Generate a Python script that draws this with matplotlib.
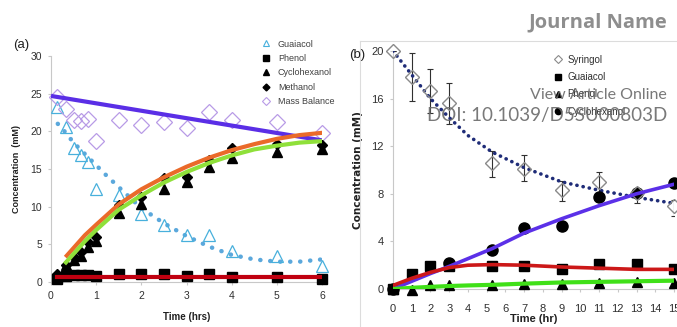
import matplotlib.pyplot as plt
from matplotlib.lines import Line2D

plt.rcParams['font.family'] = ['Liberation Sans Narrow', 'Liberation Sans', 'DejaVu Sans']

# panel (a) samples
ta = [0.13, 0.33, 0.5, 0.67, 0.83, 1.0, 1.5, 2.0, 2.5, 3.0, 3.5, 4.0, 5.0, 6.0]
guaiacol_a = [23.2, 20.6, 17.8, 16.8, 15.9, 12.3, 11.6, 9.0, 7.6, 6.3, 6.3, 4.1, 3.4, 2.1]
phenol_a = [0.4, 0.8, 0.9, 0.9, 0.9, 0.8, 1.1, 1.0, 1.0, 0.8, 1.0, 0.7, 0.6, 0.4]
cyclo_a = [0.6, 2.2, 2.9, 3.5, 4.6, 5.5, 9.1, 10.4, 12.4, 13.3, 15.3, 16.4, 17.2, 17.6]
methanol_a = [1.0, 2.3, 3.3, 4.0, 5.3, 6.0, 10.2, 11.3, 13.8, 13.9, 16.2, 17.8, 18.3, 18.2]
mass_a = [24.6, 22.9, 21.5, 21.4, 21.7, 18.7, 21.5, 20.9, 21.3, 20.4, 22.6, 21.5, 21.2, 19.8]

# panel (a) fitted curves
fit_g_t = [0.15, 0.3, 0.5, 0.75, 1.0, 1.25, 1.5, 2.0, 2.5, 3.0, 3.5, 4.0, 4.5, 5.0, 5.5, 6.0]
fit_g = [21.0, 20.0, 18.5, 17.0, 15.5, 14.0, 12.6, 9.8, 7.8, 6.1, 4.7, 3.6, 3.0, 2.7, 2.7, 3.0]
fit_o_t = [0.35, 0.75, 1.0, 1.5, 2.0, 2.5, 3.0, 3.5, 4.0, 4.5, 5.0, 5.5, 6.0]
fit_o = [3.5, 6.2, 7.6, 10.3, 12.3, 13.9, 15.3, 16.5, 17.5, 18.3, 19.0, 19.5, 19.8]
fit_c_t = [0.33, 0.75, 1.0, 1.5, 2.0, 2.5, 3.0, 3.5, 4.0, 4.5, 5.0, 5.5, 6.0]
fit_c = [2.6, 5.4, 6.9, 9.6, 11.5, 13.2, 14.6, 15.8, 16.8, 17.6, 18.1, 18.5, 18.7]
fit_m_t = [0.0, 6.0]
fit_m = [24.7, 18.8]
fit_p_t = [0.13, 6.0]
fit_p = [0.7, 0.7]

# panel (b) samples
tb = [0, 1, 2, 3, 5.3, 7, 9, 11, 13, 15]
syringol = [20.0, 17.8, 16.6, 15.6, 10.6, 10.1, 8.3, 9.0, 8.1, 7.0]
syr_lo = [20.0, 15.8, 14.8, 13.9, 9.4, 9.05, 7.4, 7.8, 7.2, 6.1]
syr_hi = [20.0, 19.8, 18.5, 17.3, 11.6, 11.3, 9.05, 9.8, 8.4, 7.5]
guaiacol_b = [0.0, 1.3, 1.9, 1.9, 1.9, 1.9, 1.7, 2.1, 2.1, 1.7]
phenol_b = [0.0, -0.1, 0.3, 0.3, 0.3, 0.4, 0.4, 0.5, 0.6, 0.5]
tb_c = [0, 3, 5.3, 7, 9, 11, 13, 15]
cyclo_b = [0.0, 2.2, 3.3, 5.1, 5.3, 7.7, 8.1, 8.9]

fit_b_t = [0, 1, 2, 3, 4, 5.3, 7, 9, 11, 13, 15]
fit_syr = [20.0, 18.0, 16.0, 14.4, 12.9, 11.5, 10.2, 9.0, 8.3, 7.7, 7.2]
fit_cyc = [0.0, 0.65, 1.3, 1.9, 2.55, 3.4, 4.7, 5.9, 7.0, 8.0, 8.8]
fit_gua = [0.3, 0.9, 1.4, 1.8, 2.0, 2.05, 2.0, 1.85, 1.75, 1.65, 1.65]
fit_phe = [0.0, 0.1, 0.18, 0.25, 0.3, 0.35, 0.45, 0.55, 0.6, 0.65, 0.7]

W, H = 677, 327
fig = plt.figure(figsize=(W / 100, H / 100), dpi=100)

tick_col = '#303030'
spine_col = '#c8c8c8'


def style(ax):
    for s in ['top', 'right']:
        ax.spines[s].set_visible(False)
    for s in ['left', 'bottom']:
        ax.spines[s].set_color(spine_col)
        ax.spines[s].set_linewidth(0.8)
    ax.tick_params(colors=spine_col, labelcolor=tick_col, length=2.5, width=0.8, labelsize=7.5, pad=4)


# ---------- panel (a) ----------
ax1 = fig.add_axes([51 / W, 45 / H, 271 / W, 226 / H])
style(ax1)
ax1.set_xlim(0, 6)
ax1.set_ylim(0, 30)
ax1.set_xticks(range(0, 7))
ax1.set_yticks(range(0, 31, 5))

ax1.plot(fit_g_t, fit_g, color='#5ba8dc', lw=3.2, linestyle=(0, (0.05, 2.2)),
         dash_capstyle='round', zorder=2)
ax1.plot(ta, guaiacol_a, '^', ms=9, mfc='none', mec='#48b0dc', mew=0.9, zorder=3, clip_on=False)
ax1.plot(ta, mass_a, 'D', ms=8.5, mfc='none', mec='#b89be6', mew=0.9, zorder=3, clip_on=False)
ax1.plot(ta, phenol_a, 's', ms=7, color='black', zorder=3, clip_on=False)
ax1.plot(ta, cyclo_a, '^', ms=7.5, color='black', zorder=3, clip_on=False)
ax1.plot(ta, methanol_a, 'D', ms=5.5, color='black', zorder=3, clip_on=False)
ax1.plot(fit_m_t, fit_m, color='#5a2ee6', lw=3, zorder=4, solid_capstyle='butt')
ax1.plot(fit_o_t, fit_o, color='#ea6a2a', lw=3, zorder=4)
ax1.plot(fit_c_t, fit_c, color='#8fe03a', lw=3, zorder=4)
ax1.plot(fit_p_t, fit_p, color='#c00010', lw=3, zorder=4)

ax1.set_xlabel('Time (hrs)', fontsize=7, fontweight='bold', color='#202020', labelpad=8)
ax1.set_ylabel('Concentration  (mM)', fontsize=6.5, fontweight='bold', color='#202020', labelpad=7)

leg_a = [
    Line2D([], [], ls='none', marker='^', ms=5, mfc='none', mec='#48b0dc', mew=0.8),
    Line2D([], [], ls='none', marker='s', ms=4.5, color='black'),
    Line2D([], [], ls='none', marker='^', ms=4.5, color='black'),
    Line2D([], [], ls='none', marker='D', ms=3.5, color='black'),
    Line2D([], [], ls='none', marker='D', ms=4.5, mfc='none', mec='#b89be6', mew=0.8),
]
fig.legend(leg_a, ['Guaiacol', 'Phenol', 'Cyclohexanol', 'Methanol', 'Mass Balance'],
           loc='upper left', bbox_to_anchor=(257 / W, 1 - 35 / H), frameon=False,
           fontsize=6.5, labelcolor='#404040', handlelength=1.0, handletextpad=0.8,
           labelspacing=0.6, borderpad=0)

fig.text(13 / W, 1 - 45 / H, '(a)', fontsize=9.5, color='#202020', va='center', ha='left')

# ---------- panel (b) ----------
fig.add_artist(Line2D([360 / W, 1.0], [1 - 41 / H, 1 - 41 / H], color='#dcdcdc', lw=0.8,
                      transform=fig.transFigure))
fig.add_artist(Line2D([360 / W, 360 / W], [0, 1 - 41 / H], color='#dcdcdc', lw=0.8,
                      transform=fig.transFigure))

ax2 = fig.add_axes([393 / W, 38 / H, 281 / W, 238 / H])
style(ax2)
ax2.set_xlim(0, 15)
ax2.set_ylim(0, 20)
ax2.set_xticks(range(0, 16))
ax2.set_yticks(range(0, 21, 4))
ax2.tick_params(labelsize=8)
ax2.tick_params(axis='x', pad=8)

ax2.errorbar(tb, syringol, yerr=[[s - l for s, l in zip(syringol, syr_lo)],
                                 [h - s for s, h in zip(syringol, syr_hi)]],
             fmt='none', ecolor='#303030', elinewidth=0.8, capsize=2, capthick=0.8, zorder=2)
ax2.plot(fit_b_t, fit_syr, color='#1f2c78', lw=2.6, linestyle=(0, (0.05, 1.7)),
         dash_capstyle='round', zorder=3)
ax2.plot(tb, syringol, 'D', ms=7, mfc='none', mec='#8a8a8a', mew=1.0, zorder=4, clip_on=False)
ax2.plot(tb, guaiacol_b, 's', ms=7, color='black', zorder=3, clip_on=False)
ax2.plot(tb, phenol_b, '^', ms=6.5, color='black', zorder=3, clip_on=False)
ax2.plot(tb_c, cyclo_b, 'o', ms=8, color='black', zorder=3, clip_on=False)
ax2.plot(fit_b_t, fit_cyc, color='#5b30e8', lw=2.6, zorder=5)
ax2.plot(fit_b_t, fit_gua, color='#cc1818', lw=2.6, zorder=5)
ax2.plot(fit_b_t, fit_phe, color='#40e018', lw=3, zorder=5)

ax2.set_xlabel('Time (hr)', fontsize=8, fontweight='bold', color='#202020', labelpad=0)
ax2.set_ylabel('Concentration (mM)', fontsize=7.5, fontweight='bold', color='#202020',
               family=['DejaVu Sans'], labelpad=6)

leg_b = [
    Line2D([], [], ls='none', marker='D', ms=4, mfc='none', mec='#8a8a8a', mew=0.8),
    Line2D([], [], ls='none', marker='s', ms=4.5, color='black'),
    Line2D([], [], ls='none', marker='^', ms=4.5, color='black'),
    Line2D([], [], ls='none', marker='o', ms=4.5, color='black'),
]
fig.legend(leg_b, ['Syringol', 'Guaiacol', 'Phenol', 'Cyclohexanol'],
           loc='upper left', bbox_to_anchor=(549 / W, 1 - 50 / H), frameon=False,
           fontsize=7, labelcolor='#303030', handlelength=0.8, handletextpad=0.6,
           labelspacing=0.75, borderpad=0)

fig.text(349 / W, 1 - 55 / H, '(b)', fontsize=9.5, color='#202020', va='center', ha='left')

# page header and watermark
fig.text(667 / W, 1 - 22 / H, 'Journal Name', fontsize=14.5, fontweight='bold', color='#8e8e8e',
         ha='right', va='center', family=['Open Sans', 'DejaVu Sans'])
fig.text(667 / W, 1 - 95 / H, 'View Article Online', fontsize=11.5, color='#6a6a6a',
         ha='right', va='center', family=['Lato', 'DejaVu Sans'], alpha=0.9, zorder=10)
fig.text(667 / W, 1 - 116 / H, 'DOI: 10.1039/D5SU00803D', fontsize=13.5, color='#6a6a6a',
         ha='right', va='center', family=['Lato', 'DejaVu Sans'], alpha=0.9, zorder=10)

fig.savefig('out.png', dpi=100)
